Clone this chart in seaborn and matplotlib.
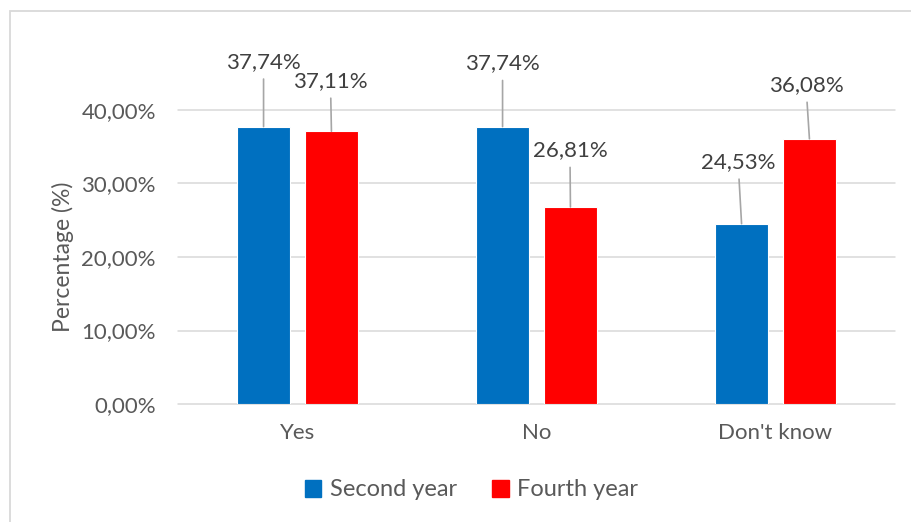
import matplotlib
matplotlib.use("Agg")
import matplotlib.pyplot as plt
import matplotlib.patches as mpatches
import seaborn as sns
import pandas as pd

categories = ["Yes", "No", "Don't know"]
series_names = ["Second year", "Fourth year"]
second_year = [37.74, 37.74, 24.53]
fourth_year = [37.11, 26.81, 36.08]
y_ticks = [0, 10, 20, 30, 40]

colors = ["#0070C0", "#FF0000"]
TXT = "#595959"
LBL = "#404040"
GRID = "#D9D9D9"
FONT = "Lato"
FS = 16

df = pd.DataFrame({
    "category": categories * 2,
    "series": [series_names[0]] * 3 + [series_names[1]] * 3,
    "value": second_year + fourth_year,
})

sns.set_theme(style="white")
plt.rcParams["font.family"] = [FONT, "DejaVu Sans"]

W, H = 912, 522
fig = plt.figure(figsize=(W / 100, H / 100), dpi=100)
ax = fig.add_axes([178 / W, 1 - 404 / H, 717 / W, 294 / H])

sns.barplot(data=df, x="category", y="value", hue="series", order=categories,
            hue_order=series_names, palette=colors, width=0.568, gap=0.218,
            saturation=1, ax=ax, legend=False, linewidth=0.8, edgecolor="#ffffff")

ax.set_xlim(-0.5, 2.5)
ax.set_ylim(0, 40)
ax.set_yticks(y_ticks)
ax.set_yticklabels([f"{v:.2f}%".replace(".", ",") for v in y_ticks],
                   fontsize=FS, color=TXT)
ax.set_xticks(range(len(categories)))
ax.set_xticklabels(categories, fontsize=FS, color=TXT)
ax.tick_params(axis="y", length=0, pad=16)
ax.tick_params(axis="x", length=0, pad=14)
ax.set_xlabel("")
ax.set_ylabel("Percentage (%)", fontsize=FS + 0.5, color=TXT)
ax.yaxis.set_label_coords(-(178 - 74) / 717, 0.5)
for s in ax.spines.values():
    s.set_visible(False)
ax.grid(False)
for v in y_ticks:
    ax.axhline(v, color=GRID, lw=1.1, zorder=0, clip_on=False)

# label placement (pixel offsets of label centre from bar top), style only
offsets = [(0, -65), (0, -63.6), (-3.5, -62), (-1, -50.5), (-0.5, -57), (-3.5, -54)]
values = second_year + fourth_year
bars = [p for p in ax.patches if p.get_height() > 0]
bars = sorted(bars, key=lambda p: (0 if abs(p.get_facecolor()[0]) < 0.5 else 1, p.get_x()))
for p, v, (dx, dy) in zip(bars, values, offsets):
    xc = p.get_x() + p.get_width() / 2
    top = p.get_height()
    ax.annotate(f"{v:.2f}%".replace(".", ","), xy=(xc, top),
                xytext=(dx * 0.72, -dy * 0.72), textcoords="offset points",
                ha="center", va="center", fontsize=FS, color=LBL,
                annotation_clip=False,
                arrowprops=dict(arrowstyle="-", color="#A6A6A6", lw=1.2,
                                shrinkA=3, shrinkB=0))

handles = [mpatches.Patch(color=c, label=n) for c, n in zip(colors, series_names)]
fig.legend(handles=handles, loc="center", bbox_to_anchor=(471.5 / W, 1 - 490 / H),
           ncol=2, frameon=False, fontsize=17, labelcolor=TXT,
           handlelength=0.7, handleheight=0.7, handletextpad=0.35,
           columnspacing=1.5)

frame = mpatches.Rectangle((10 / W, -0.1), 1.2, 1 - 11 / H + 0.1,
                           transform=fig.transFigure, fill=False,
                           edgecolor=GRID, lw=1.3)
fig.patches.append(frame)

fig.savefig("out.png", dpi=100, facecolor="white")
